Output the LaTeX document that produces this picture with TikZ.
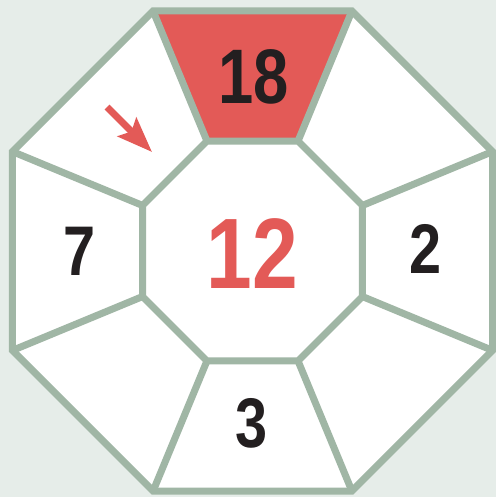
\documentclass[tikz,border=0pt]{standalone}
\usepackage{fontspec}
\setmainfont{Liberation Sans}[FakeStretch=0.82]
\usepackage{tikz}
\usetikzlibrary{arrows.meta,calc}
\definecolor{bgpale}{HTML}{E6EDE9}
\definecolor{rim}{HTML}{A0B6A5}
\definecolor{hot}{HTML}{E35A57}
\definecolor{ink}{HTML}{231F20}

\begin{document}
\begin{tikzpicture}[x=0.02cm,y=0.02cm,
  edge/.style={draw=rim,line width=4pt,line join=miter},
  num/.style={font=\bfseries\fontsize{40}{40}\selectfont,text=ink,inner sep=0pt},
  a/.style={-{Stealth[length=7mm,width=5.2mm,inset=1.2mm]},draw=hot,line width=4pt}
]
\fill[bgpale] (0,0) rectangle (496,-497);
\useasboundingbox (0,0) rectangle (496,-497);
\coordinate (c) at (252.5,-251);
% octagon corners, k=1 top right, counted anticlockwise
\foreach \k in {0,...,7}{
  \coordinate (o\k) at ($(c)+(22.5+45*\k:259.8)$);
  \coordinate (i\k) at ($(c)+(22.5+45*\k:119)$);
}
\fill[white] (o0)--(o1)--(o2)--(o3)--(o4)--(o5)--(o6)--(o7)--cycle;
\fill[hot] (o1)--(o2)--(i2)--(i1)--cycle;
\foreach \k in {0,...,7}{
  \draw[edge] (i\k) -- (o\k);
}
\draw[edge] (i0)--(i1)--(i2)--(i3)--(i4)--(i5)--(i6)--(i7)--cycle;
\draw[edge] (o0)--(o1)--(o2)--(o3)--(o4)--(o5)--(o6)--(o7)--cycle;

\node[num,font=\bfseries\fontsize{44}{44}\selectfont] (top) at (254,-77) {18};
\node[num,text=hot,font=\bfseries\fontsize{57}{57}\selectfont] (mid) at (252.5,-254) {12};
\node[num] (left) at (80,-251) {7};
\node[num] (right) at (426,-249) {2};
\node[num] (bottom) at (252,-423) {3};

\coordinate (tail) at (107,-107);
\coordinate (tip) at (152,-152);
\draw[a] (tail) -- (tip);
\end{tikzpicture}
\end{document}
